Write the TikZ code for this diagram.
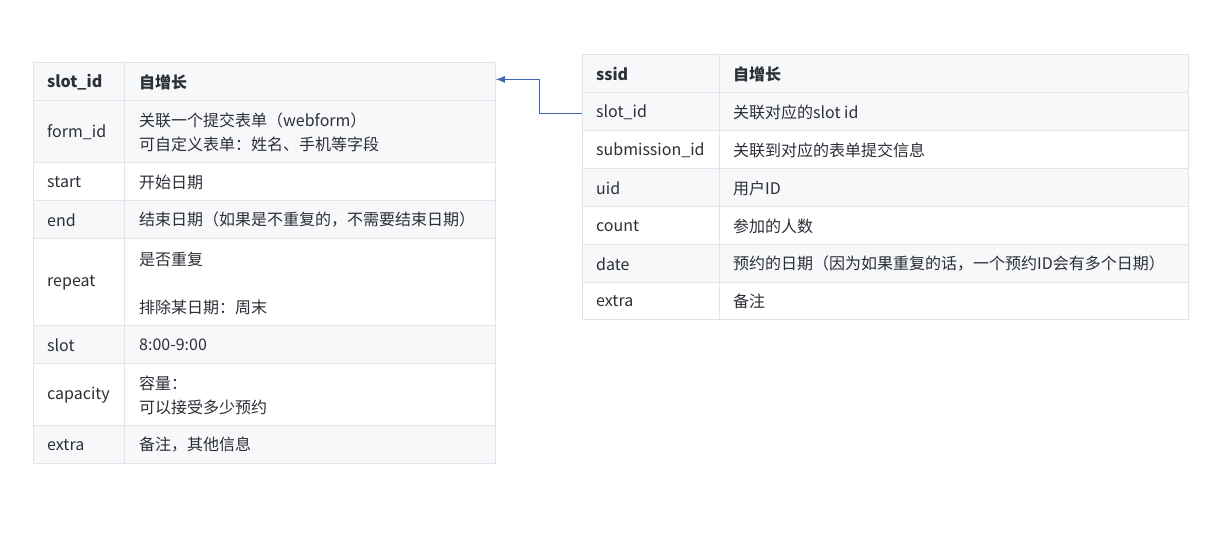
\documentclass[tikz,border=0pt]{standalone}
\usepackage{fontspec}
\setmainfont{Noto Sans CJK SC}
\usetikzlibrary{arrows.meta,positioning}
\definecolor{gridline}{HTML}{E1E4E8}
\definecolor{shade}{HTML}{F7F8FA}
\definecolor{ink}{HTML}{2B2F36}
\definecolor{link}{HTML}{3F66B0}
\newcommand{\LW}{462pt}% width of the slot table
\newcommand{\RW}{606pt}% width of the booking table

\begin{document}
\begin{tikzpicture}[x=1pt,y=-1pt,
    font=\fontsize{16}{24}\selectfont,
    row/.style={draw=gridline,line width=0.8pt,inner sep=0pt,
      anchor=north west,minimum height=#1},
    odd/.style={fill=shade},
    even/.style={fill=white},
    cell/.style={anchor=west,inner sep=0pt,text=ink,align=left},
    head/.style={cell,font=\fontsize{16}{24}\selectfont\bfseries}]
  % page size of the reference
  \useasboundingbox (0,0) rectangle (1210,535);

  % rows of the slot table
  \node[row=38pt,odd,minimum width=\LW]  (L1) at (33,62)  {};
  \node[row=62pt,odd,minimum width=\LW]  (L2) at (33,100) {};
  \node[row=38pt,even,minimum width=\LW] (L3) at (33,162) {};
  \node[row=38pt,odd,minimum width=\LW]  (L4) at (33,200) {};
  \node[row=87pt,even,minimum width=\LW] (L5) at (33,238) {};
  \node[row=38pt,odd,minimum width=\LW]  (L6) at (33,325) {};
  \node[row=62pt,even,minimum width=\LW] (L7) at (33,363) {};
  \node[row=38pt,odd,minimum width=\LW]  (L8) at (33,425) {};
  % column divider
  \draw[gridline,line width=0.8pt] (124,62) -- (124,463);

  % texts of the slot table
  \node[head] (Lk1) at (47,82)  {slot\_id};
  \node[head] (Lv1) at (139,82) {自增长};
  \node[cell] (Lk2) at (47,132) {form\_id};
  \node[cell] (Lv2) at (139,132) {关联一个提交表单（webform）\\可自定义表单：姓名、手机等字段};
  \node[cell] (Lk3) at (47,182) {start};
  \node[cell] (Lv3) at (139,182) {开始日期};
  \node[cell] (Lk4) at (47,220) {end};
  \node[cell] (Lv4) at (139,220) {结束日期（如果是不重复的，不需要结束日期）};
  \node[cell] (Lk5) at (47,283) {repeat};
  \node[cell] (Lv5) at (139,283) {是否重复\\[24pt]排除某日期：周末};
  \node[cell] (Lk6) at (47,345) {slot};
  \node[cell] (Lv6) at (139,345) {8:00-9:00};
  \node[cell] (Lk7) at (47,395) {capacity};
  \node[cell] (Lv7) at (139,395) {容量：\\可以接受多少预约};
  \node[cell] (Lk8) at (47,445) {extra};
  \node[cell] (Lv8) at (139,445) {备注，其他信息};

  % rows of the booking table
  \node[row=38pt,odd,minimum width=\RW]  (R1) at (582,54)  {};
  \node[row=38pt,odd,minimum width=\RW]  (R2) at (582,92)  {};
  \node[row=38pt,even,minimum width=\RW] (R3) at (582,130) {};
  \node[row=38pt,odd,minimum width=\RW]  (R4) at (582,168) {};
  \node[row=38pt,even,minimum width=\RW] (R5) at (582,206) {};
  \node[row=38pt,odd,minimum width=\RW]  (R6) at (582,244) {};
  \node[row=37pt,even,minimum width=\RW] (R7) at (582,282) {};
  % column divider
  \draw[gridline,line width=0.8pt] (719,54) -- (719,319);

  % texts of the booking table
  \node[head] (Rk1) at (596,74)  {ssid};
  \node[head] (Rv1) at (733,74)  {自增长};
  \node[cell] (Rk2) at (596,112) {slot\_id};
  \node[cell] (Rv2) at (733,112) {关联对应的slot id};
  \node[cell] (Rk3) at (596,150) {submission\_id};
  \node[cell] (Rv3) at (733,150) {关联到对应的表单提交信息};
  \node[cell] (Rk4) at (596,188) {uid};
  \node[cell] (Rv4) at (733,188) {用户ID};
  \node[cell] (Rk5) at (596,226) {count};
  \node[cell] (Rv5) at (733,226) {参加的人数};
  \node[cell] (Rk6) at (596,264) {date};
  \node[cell] (Rv6) at (733,264) {预约的日期（因为如果重复的话，一个预约ID会有多个日期）};
  \node[cell] (Rk7) at (596,301) {extra};
  \node[cell] (Rv7) at (733,301) {备注};

  % slot_id of a booking points back to the slot table
  \draw[link,line width=1pt,-{Latex[length=9pt,width=7pt]}]
    ([yshift=-2pt]R2.west) -- ++(-43,0) |- ([yshift=2pt]L1.east);
\end{tikzpicture}
\end{document}
